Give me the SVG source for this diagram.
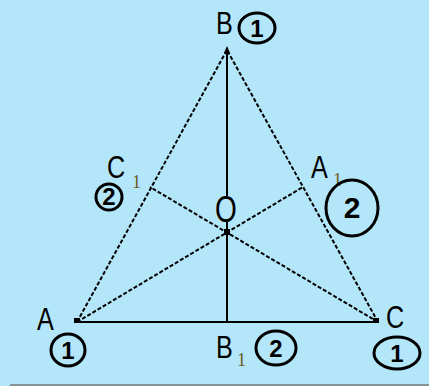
<svg xmlns="http://www.w3.org/2000/svg" width="429" height="386" viewBox="0 0 429 386">
<style>
.lbl{font-family:"Liberation Sans",Arial,sans-serif;font-size:28px;fill:#000}
.sub{font-family:"Liberation Serif",serif;font-size:18px;fill:#6b5a1e}
.num{font-family:"Liberation Sans",Arial,sans-serif;font-size:24px;font-weight:bold;fill:#000;text-anchor:middle}
.ring{fill:none;stroke:#000;stroke-width:3}
.dot{stroke:#000;stroke-width:2;stroke-dasharray:4 2;fill:none}
.solid{stroke:#000;stroke-width:2;fill:none}
</style>
<rect width="429" height="386" fill="#b3e6f8"/>
<line x1="10" y1="385" x2="429" y2="385" stroke="#777" stroke-width="1.5"/>
<g id="connectors">
<line class="dot" x1="77" y1="322" x2="227" y2="50"/>
<line class="dot" x1="378" y1="322" x2="227" y2="50"/>
<line class="dot" x1="77" y1="322" x2="303" y2="187"/>
<line class="dot" x1="378" y1="322" x2="150" y2="187"/>
<line class="solid" x1="227" y1="50" x2="227" y2="196"/>
<line class="solid" x1="227" y1="222" x2="227" y2="322"/>
<line class="solid" x1="77" y1="322" x2="378" y2="322"/>
<rect x="74" y="318" width="6" height="5" fill="#000"/>
<rect x="373" y="318" width="6" height="5" fill="#000"/>
<rect x="224" y="229" width="6" height="6" fill="#000"/>
<polygon points="227,46 224,53 230,53" fill="#000"/>
</g>
<g id="B">
<text class="lbl" x="216" y="34" transform="translate(216 34) scale(0.9 1.1) translate(-216 -34)">B</text>
<ellipse class="ring" cx="257" cy="28" rx="18" ry="15"/>
<text class="num" x="257" y="37">1</text>
</g>
<g id="C1">
<text class="lbl" x="107" y="178" transform="translate(107 178) scale(0.9 1.1) translate(-107 -178)">C</text>
<text class="sub" x="132" y="188">1</text>
<ellipse class="ring" cx="109" cy="197" rx="13" ry="13"/>
<text class="num" x="109" y="205">2</text>
</g>
<g id="O">
<text class="lbl" x="215" y="222" transform="translate(215 222) scale(1.0 1.35) translate(-215 -222)">O</text>
</g>
<g id="A1">
<text class="lbl" x="311" y="178" transform="translate(311 178) scale(0.9 1.1) translate(-311 -178)">A</text>
<text class="sub" x="333" y="186">1</text>
<ellipse class="ring" cx="352" cy="208" rx="26" ry="28"/>
<text class="num" x="352" y="218" style="font-size:30px">2</text>
</g>
<g id="A">
<text class="lbl" x="37" y="330" transform="translate(37 330) scale(0.9 1.1) translate(-37 -330)">A</text>
<ellipse class="ring" cx="68" cy="350" rx="17" ry="16"/>
<text class="num" x="68" y="359">1</text>
</g>
<g id="B1">
<text class="lbl" x="216" y="358" transform="translate(216 358) scale(0.9 1.1) translate(-216 -358)">B</text>
<text class="sub" x="237" y="366">1</text>
<ellipse class="ring" cx="276" cy="348" rx="20" ry="17"/>
<text class="num" x="276" y="357">2</text>
</g>
<g id="C">
<text class="lbl" x="386" y="328" transform="translate(386 328) scale(0.9 1.1) translate(-386 -328)">C</text>
<ellipse class="ring" cx="397" cy="353" rx="23" ry="16"/>
<text class="num" x="397" y="362">1</text>
</g>
</svg>
